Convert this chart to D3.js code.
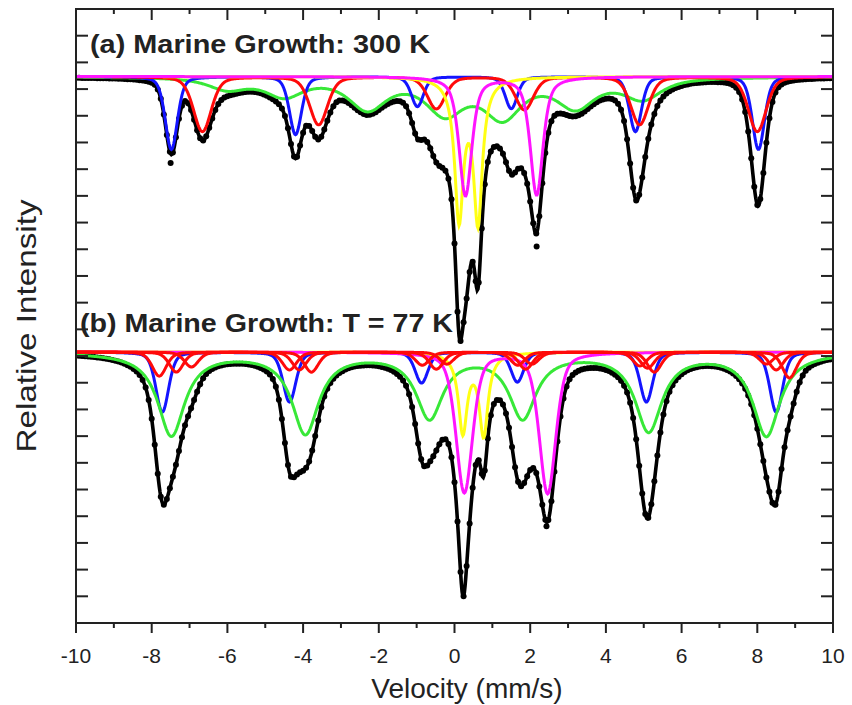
<!DOCTYPE html>
<html>
<head>
<meta charset="utf-8">
<script src="https://cdn.jsdelivr.net/npm/d3@7"></script>
<style>
  html, body { margin: 0; padding: 0; background: #fff; }
  svg { display: block; }
  text { font-family: "Liberation Sans", Arial, Helvetica, sans-serif; fill: #222; }
</style>
</head>
<body>
<svg id="chart" width="852" height="705"></svg>
<script>
// ---------------- data ----------------
// velocity axis
const velocityDomain = [-10, 10];
const velocityMajorTicks = [-10, -8, -6, -4, -2, 0, 2, 4, 6, 8, 10];
const velocityMinorTicks = [-9, -7, -5, -3, -1, 1, 3, 5, 7, 9];
// relative-intensity axis (unlabelled, one unit per tick)
const intensityDomain = [0, 23];
const intensityTicks = [1,2,3,4,5,6,7,8,9,10,11,12,13,14,15,16,17,18,19,20,21,22];

// panel titles and baselines
const panelTitles = ["(a) Marine Growth: 300 K", "(b) Marine Growth: T = 77 K"];
const panelBaselines = [20.47, 10.15];

// fitted components: line positions (mm/s), depths (intensity units),
// half widths (mm/s) and Lorentzian fraction of the line shape
// panel (a) 300 K
const aBluePos = [-7.48, -4.20, -0.98, 1.50, 4.78, 8.03];
const aBlueDepth = [2.73, 2.17, 1.12, 1.20, 2.06, 2.73];
const aBlueHw = 0.19, aBlueEta = 0.35;
const aRedPos = [-6.66, -3.59, -0.48, 1.85, 4.89, 8.00];
const aRedDepth = [2.06, 1.80, 1.20, 1.24, 1.80, 2.06];
const aRedHw = 0.28, aRedEta = 0.35;
const aGreenPos = [-6.00, -4.50, -2.30, -0.25, 1.27, 3.20, 4.97];
const aGreenDepth = [0.43, 0.68, 1.15, 1.30, 1.45, 1.08, 0.78];
const aGreenHw = 0.6, aGreenEta = 0.8;
const aMagentaPos = [0.29, 2.17];
const aMagentaDepth = [4.45, 4.42];
const aMagentaHw = 0.2, aMagentaEta = 0.6;
const aYellowPos = [0.12, 0.62];
const aYellowDepth = [5.2, 5.3];
const aYellowHw = 0.14, aYellowEta = 1;

// panel (b) 77 K
const bBluePos = [-7.72, -4.36, -0.87, 1.66, 5.07, 8.50];
const bBlueDepth = [2.25, 1.87, 1.16, 1.12, 1.87, 2.25];
const bBlueHw = 0.2, bBlueEta = 0.35;
const bGreenPos = [-7.48, -3.94, -0.66, 1.80, 5.13, 8.24];
const bGreenDepth = [3.10, 3.00, 2.40, 2.40, 2.90, 3.10];
const bGreenHw = 0.43, bGreenEta = 1;
const bRed1Pos = [-7.80, -4.36, -0.85, 1.67, 5.28, 8.85];
const bRed1Depth = [0.90, 0.67, 0.49, 0.49, 0.75, 0.97];
const bRed2Pos = [-7.35, -4.10, -0.48, 1.88, 5.10, 8.50];
const bRed2Depth = [0.75, 0.67, 0.64, 0.64, 0.60, 0.67];
const bRed3Pos = [-6.95, -3.78, -0.20, 2.05, 4.90, 8.24];
const bRed3Depth = [0.56, 0.75, 0.45, 0.45, 0.52, 0.45];
const bRedHw = 0.22, bRedEta = 0.35;
const bMagentaPos = [0.26, 2.46];
const bMagentaDepth = [5.25, 5.28];
const bMagentaHw = 0.26, bMagentaEta = 0.45;
const bYellowPos = [0.22, 0.77];
const bYellowDepth = [2.95, 3.05];
const bYellowHw = 0.14, bYellowEta = 1;

// a few measured points that sit off the fitted envelope: [velocity, intensity]
const aOutliers = [[2.17, 14.10], [-7.50, 17.23]];
const bOutliers = [[2.43, 3.62]];

// channel spacing of the measured spectrum (mm/s)
const channelStep = 0.08;

// ---------------- drawing ----------------
const W = 852, H = 705;
const L = 76, R = 833, T = 9, B = 623;
const svg = d3.select("#chart");
svg.append("rect").attr("width", W).attr("height", H).attr("fill", "#fff");

const x = d3.scaleLinear().domain(velocityDomain).range([L, R]);
const y = d3.scaleLinear().domain(intensityDomain).range([B, T]);

const colors = { blue: "#1414ff", red: "#ff0a0a", green: "#38e838", magenta: "#ff14ff", yellow: "#ffff14" };

function comp(pos, depth, hw, eta, color) {
  return { lines: pos.map((p, i) => ({ p, d: depth[i], w: hw })), eta, color };
}

const panels = [
  { baseline: panelBaselines[0], title: panelTitles[0],
    comps: [
      comp(aGreenPos, aGreenDepth, aGreenHw, aGreenEta, colors.green),
      comp(aBluePos, aBlueDepth, aBlueHw, aBlueEta, colors.blue),
      comp(aRedPos, aRedDepth, aRedHw, aRedEta, colors.red),
      comp(aYellowPos, aYellowDepth, aYellowHw, aYellowEta, colors.yellow),
      comp(aMagentaPos, aMagentaDepth, aMagentaHw, aMagentaEta, colors.magenta)
    ], outliers: aOutliers },
  { baseline: panelBaselines[1], title: panelTitles[1],
    comps: [
      comp(bBluePos, bBlueDepth, bBlueHw, bBlueEta, colors.blue),
      comp(bGreenPos, bGreenDepth, bGreenHw, bGreenEta, colors.green),
      comp(bYellowPos, bYellowDepth, bYellowHw, bYellowEta, colors.yellow),
      comp(bMagentaPos, bMagentaDepth, bMagentaHw, bMagentaEta, colors.magenta),
      comp(bRed1Pos, bRed1Depth, bRedHw, bRedEta, colors.red),
      comp(bRed2Pos, bRed2Depth, bRedHw, bRedEta, colors.red),
      comp(bRed3Pos, bRed3Depth, bRedHw, bRedEta, colors.red)
    ], outliers: bOutliers }
];

// pseudo-Voigt absorption of one component at velocity v
function absorb(c, v) {
  let s = 0;
  for (const l of c.lines) {
    const u = (v - l.p) / l.w;
    s += l.d * (c.eta / (1 + u * u) + (1 - c.eta) * Math.exp(-Math.LN2 * u * u));
  }
  return s;
}

const fine = d3.range(velocityDomain[0], velocityDomain[1] + 1e-9, 0.02);
const channels = d3.range(velocityDomain[0], velocityDomain[1] + 1e-9, channelStep);

svg.append("clipPath").attr("id", "plotclip").append("rect")
  .attr("x", L).attr("y", T).attr("width", R - L).attr("height", B - T);
const plot = svg.append("g").attr("clip-path", "url(#plotclip)");
const line = d3.line().x(d => x(d[0])).y(d => y(d[1]));

panels.forEach(P => {
  const total = v => P.baseline - d3.sum(P.comps, c => absorb(c, v));
  // measured points
  plot.append("g").selectAll("circle").data(channels.map(v => [v, total(v)]).concat(P.outliers))
    .join("circle").attr("cx", d => x(d[0])).attr("cy", d => y(d[1])).attr("r", 3).attr("fill", "#000");
  // total fit
  plot.append("path").datum(fine.map(v => [v, total(v)]))
    .attr("d", line).attr("fill", "none").attr("stroke", "#000").attr("stroke-width", 3.6);
  // components
  P.comps.forEach(c => {
    plot.append("path").datum(fine.map(v => [v, P.baseline - absorb(c, v)]))
      .attr("d", line).attr("fill", "none").attr("stroke", c.color).attr("stroke-width", 3);
  });
});

// frame
const axisColor = "#222";
svg.append("rect").attr("x", L).attr("y", T).attr("width", R - L).attr("height", B - T)
  .attr("fill", "none").attr("stroke", axisColor).attr("stroke-width", 2);

// x ticks: bottom outward, top inward; y ticks inward on both sides
const tg = svg.append("g").attr("stroke", axisColor).attr("stroke-width", 2);
velocityMajorTicks.forEach(v => {
  tg.append("line").attr("x1", x(v)).attr("x2", x(v)).attr("y1", B).attr("y2", B + 10);
  tg.append("line").attr("x1", x(v)).attr("x2", x(v)).attr("y1", T).attr("y2", T + 11);
});
velocityMinorTicks.forEach(v => {
  tg.append("line").attr("x1", x(v)).attr("x2", x(v)).attr("y1", B).attr("y2", B + 5);
  tg.append("line").attr("x1", x(v)).attr("x2", x(v)).attr("y1", T).attr("y2", T + 5);
});
intensityTicks.forEach(t => {
  tg.append("line").attr("x1", L).attr("x2", L + 12).attr("y1", y(t)).attr("y2", y(t));
  tg.append("line").attr("x1", R).attr("x2", R - 12).attr("y1", y(t)).attr("y2", y(t));
});

// tick labels
svg.append("g").selectAll("text").data(velocityMajorTicks).join("text")
  .attr("x", d => x(d)).attr("y", 663).attr("text-anchor", "middle")
  .attr("font-size", 21).text(d => d);

// axis titles
svg.append("text").attr("x", 467).attr("y", 698).attr("text-anchor", "middle")
  .attr("font-size", 28).text("Velocity (mm/s)");
svg.append("text").attr("transform", "translate(36,326) rotate(-90)").attr("text-anchor", "middle")
  .attr("font-size", 28).attr("textLength", 253).attr("lengthAdjust", "spacingAndGlyphs")
  .text("Relative Intensity");

// panel titles
svg.append("text").attr("x", 90).attr("y", 53).attr("font-size", 25).attr("font-weight", "bold")
  .attr("textLength", 340).attr("lengthAdjust", "spacingAndGlyphs").text(panels[0].title);
svg.append("text").attr("x", 80).attr("y", 332).attr("font-size", 25).attr("font-weight", "bold")
  .attr("textLength", 373).attr("lengthAdjust", "spacingAndGlyphs").text(panels[1].title);
</script>
</body>
</html>
